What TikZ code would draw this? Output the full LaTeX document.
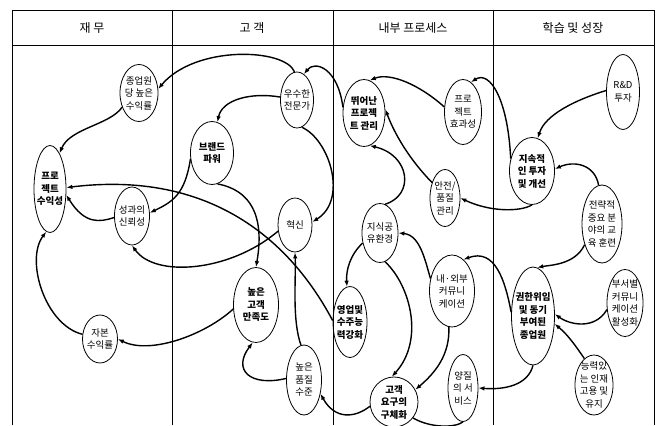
\documentclass[tikz,border=0pt]{standalone}
\usepackage{fontspec}
\newfontfamily\kr{Noto Sans CJK KR}
\usetikzlibrary{shapes.geometric,arrows.meta}
\begin{document}
\begin{tikzpicture}[x=1pt,y=-1pt,
 el/.style={ellipse,draw,line width=0.8pt,inner sep=-8pt,align=center,font=\kr\fontsize{9.5}{12.5}\selectfont},
 elb/.style={el,font=\kr\bfseries\fontsize{9.5}{12.5}\selectfont},
 arr/.style={line width=1.4pt,-{Latex[length=6pt,width=4.5pt]}},
 plain/.style={line width=1.4pt},
 frame/.style={line width=0.7pt},
 hd/.style={font=\kr\fontsize{12}{14}\selectfont}]
\useasboundingbox (0,0) rectangle (660,425);
% frame
\draw[frame] (12,10) -- (654,10);
\draw[frame] (12,45) -- (654,45);
\foreach \xx in {12,172,333,493,654} \draw[frame] (\xx,10) -- (\xx,425);
\node[hd] (h1) at (92,28) {재 무};
\node[hd] (h2) at (252,28) {고 객};
\node[hd] (h3) at (413,28) {내부 프로세스};
\node[hd] (h4) at (573,28) {학습 및 성장};
% nodes
\node[el,minimum width=38pt,minimum height=57pt] (A) at (139,93) {종업원\\당 높은\\수익률};
\node[elb,minimum width=32pt,minimum height=87pt] (B) at (50,189) {프로\\젝트\\수익성};
\node[el,minimum width=35pt,minimum height=58pt] (C) at (132,216) {성과의\\신뢰성};
\node[el,minimum width=35pt,minimum height=48pt] (D) at (100,339) {자본\\수익률};
\node[el,minimum width=33pt,minimum height=56pt] (E) at (297,100) {우수한\\전문가};
\node[elb,minimum width=43pt,minimum height=63pt] (F) at (212,153) {브랜드\\파워};
\node[el,minimum width=34pt,minimum height=54pt] (G) at (295,225) {혁신};
\node[elb,minimum width=45pt,minimum height=75pt] (H) at (256,305) {높은\\고객\\만족도};
\node[el,minimum width=35pt,minimum height=70pt] (I) at (304,380) {높은\\품질\\수준};
\node[elb,minimum width=42pt,minimum height=67pt] (J) at (364,113) {뛰어난\\프로젝\\트 관리};
\node[el,minimum width=37pt,minimum height=65pt] (K) at (463,112) {프로\\젝트\\효과성};
\node[el,minimum width=30pt,minimum height=57pt] (L) at (445,198) {안전/\\품질\\관리};
\node[el,minimum width=36pt,minimum height=59pt] (M) at (380,233) {지식공\\유환경};
\node[elb,minimum width=34pt,minimum height=71pt] (N) at (350,322) {영업및\\수주능\\력강화};
\node[el,minimum width=45pt,minimum height=72pt] (O) at (452,291) {내·외부\\커뮤니\\케이션};
\node[elb,minimum width=48pt,minimum height=50pt] (P) at (394,402) {고객\\요구의\\구체화};
\node[el,minimum width=30pt,minimum height=67pt] (Q) at (463,388) {양질\\의 서\\비스};
\node[el,minimum width=33pt,minimum height=75pt] (R) at (623,92) {R\&D\\투자};
\node[elb,minimum width=45pt,minimum height=67pt] (S) at (532,171) {지속적\\인 투자\\및 개선};
\node[el,minimum width=40pt,minimum height=78pt] (T) at (602,224) {전략적\\중요 분\\야의 교\\육 훈련};
\node[elb,minimum width=43pt,minimum height=98pt] (U) at (533,316) {권한위임\\및 동기\\부여된\\종업원};
\node[el,minimum width=36pt,minimum height=67pt] (V) at (625,303) {부서별\\커뮤니\\케이션\\활성화};
\node[el,minimum width=38pt,minimum height=60pt] (W) at (594,385) {능력있\\는 인재\\고용 및\\유지};
% connectors
\draw[arr] (E.95) .. controls (285,48) and (195,45) .. (A.12);
\draw[arr] (J.165) .. controls (338,68) and (315,60) .. (E.75);
\draw[arr] (E.170) .. controls (250,92) and (222,100) .. (F.80);
\draw[arr] (E.-80) .. controls (330,140) and (348,200) .. (G.10);
\draw[arr] (F.195) .. controls (185,195) and (172,202) .. (C.10);
\draw[arr] (F.-80) .. controls (250,190) and (265,215) .. (H.90);
\draw[arr] (G.200) .. controls (230,272) and (155,278) .. (C.-90);
\draw[arr] (N.175) .. controls (290,240) and (210,170) .. (B.5);
\draw[arr] (H.190) .. controls (205,335) and (150,355) .. (D.0);
\draw[arr] (D.165) .. controls (45,325) and (25,260) .. (B.-95);
\draw[arr] (A.220) .. controls (110,125) and (70,128) .. (B.75);
\draw[arr] (C.185) .. controls (100,222) and (85,225) .. (B.-20);
\draw[arr] (I.175) .. controls (250,387) and (232,370) .. (H.-95);
\draw[arr] (I.95) .. controls (292,320) and (296,280) .. (G.-90);
\draw[arr] (P.190) .. controls (355,418) and (335,420) .. (I.-40);
\draw[arr] (K.165) .. controls (420,85) and (390,72) .. (J.80);
\draw[arr] (L.130) .. controls (410,160) and (395,135) .. (J.10);
\draw[arr] (M.80) .. controls (415,195) and (410,155) .. (J.-80);
\draw[arr] (S.150) .. controls (508,100) and (490,70) .. (K.75);
\draw[arr] (S.-90) .. controls (520,212) and (490,212) .. (L.0);
\draw[arr] (O.150) .. controls (425,260) and (420,235) .. (M.0);
\draw[arr] (U.170) .. controls (505,280) and (495,248) .. (O.70);
\draw[arr] (M.210) .. controls (350,255) and (346,270) .. (N.95);
\draw[arr] (M.-80) .. controls (410,285) and (425,340) .. (P.95);
\draw[arr] (O.-95) .. controls (450,355) and (435,373) .. (P.30);
\draw[arr] (U.-90) .. controls (528,385) and (505,390) .. (Q.0);
\draw[arr] (T.230) .. controls (575,265) and (550,265) .. (U.85);
\draw[arr] (V.200) .. controls (595,330) and (570,325) .. (U.5);
\draw[arr] (W.110) .. controls (575,345) and (568,335) .. (U.-20);
\draw[arr] (R.175) .. controls (575,100) and (545,115) .. (S.80);
\draw[arr] (T.95) .. controls (595,165) and (575,160) .. (S.5);
\draw[plain] (P.-40) .. controls (430,428) and (455,428) .. (Q.-90);
\end{tikzpicture}
\end{document}
